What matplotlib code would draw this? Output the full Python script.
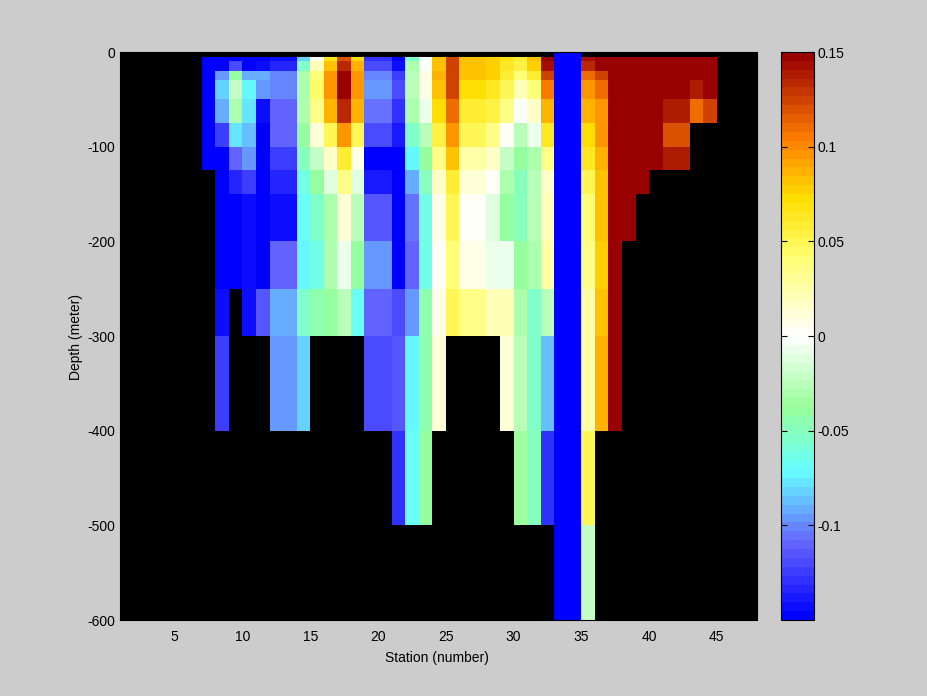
import numpy as np
import matplotlib
matplotlib.use('Agg')
import matplotlib.pyplot as plt
from matplotlib.colors import LinearSegmentedColormap

plt.rcParams['font.family'] = ['Liberation Sans', 'DejaVu Sans']

n = np.nan
b = -0.15
d = 0.15

# depth levels (meter) and station edges
depthEdges = [0, 5, 10, 20, 30, 50, 75, 100, 125, 150, 200, 250, 300, 400, 500, 600]
stationEdges = list(range(1, 49))
firstStation = 7

# one list per depth layer, starting at station 7
rowTop = [n]*26 + [b, b]
row5 = [b, b, b, b, b, -.142, -.142, -.082, 0, .066, .12, .072, -.129, -.129, b, -.055, -.003, .0825, .126, .084, .084, .0785, .066, .058, .0825, d, b, b, .145, d, d, d, d, d, d, d, d, d]
row10 = [b, b, -.121, b, -.142, -.134, -.134, -.055, .0233, .081, .133, .0866, -.119, -.119, -.144, -.0317, -.0027, .081, .126, .0825, .0825, .0785, .063, .052, .077, .1446, b, b, .133, d, d, d, d, d, d, d, d, d]
row20 = [b, -.098, -.038, -.091, -.091, -.0995, -.0995, -.03, .042, .0966, d, .0966, -.102, -.102, -.125, -.0267, .0047, .0866, .126, .084, .084, .075, .058, .042, .058, .122, b, b, .11, .126, d, d, d, d, d, d, d, d]
row30 = [b, -.082, -.019, -.072, -.096, -.0995, -.0995, -.0285, .045, .0966, d, .0966, -.096, -.096, -.119, -.0257, .007, .0825, .122, .074, .074, .064, .048, .0233, .042, .105, b, b, .0966, .11, d, d, d, d, d, d, .139, d]
row50 = [b, -.091, -.0317, -.078, -.144, -.11, -.11, -.0317, .037, .0855, .133, .0855, -.106, -.106, -.131, -.0317, -.0065, .074, .11, .058, .058, .052, .033, -.003, .0187, .0855, b, b, .0855, .0966, d, d, d, d, .139, .139, .11, .126]
row75 = [b, -.125, -.078, -.088, b, -.11, -.11, -.038, .014, .05, .0944, .05, -.119, -.119, -.1376, -.055, -.024, .053, .0944, .048, .048, .037, .004, -.0267, -.008, .064, b, b, .074, .0944, d, d, d, d, .12, .12, n, n]
row100 = [b, b, -.11, -.098, b, -.125, -.125, -.049, -.019, .0187, .058, .007, b, b, b, -.072, -.038, .033, .08, .028, .028, .0187, -.019, -.038, -.0317, .033, b, b, .063, .0855, d, d, d, d, .139, .139, n, n]
row125 = [n, b, -.134, -.125, b, -.134, -.134, -.061, -.038, -.0124, .033, -.0124, -.136, -.136, b, -.091, -.049, .0187, .058, .014, .014, .004, -.0317, -.049, -.0267, .0187, b, b, .048, .08, d, d, d]
row150 = [n, b, b, -.142, b, -.142, -.142, -.066, -.055, -.0317, .0105, -.024, -.117, -.117, b, -.104, -.061, .007, .048, .0027, .0027, -.0124, -.038, -.049, -.024, .0233, b, b, .04, .081, d, d]
row200 = [n, b, b, -.142, b, -.11, -.11, -.072, -.061, -.0317, -.0065, -.041, -.096, -.096, b, -.11, -.061, .002, .042, .007, .007, -.0065, -.0065, -.038, -.0317, .028, b, b, .033, .077, d]
row250 = [n, -.144, n, -.142, -.117, -.091, -.091, -.055, -.044, -.038, -.0267, -.066, -.11, -.11, -.121, -.096, -.044, .007, .048, .033, .033, .0233, .0233, -.03, -.055, -.024, b, b, .028, .0825, d]
row300 = [n, -.125, n, n, n, -.096, -.096, -.082, n, n, n, n, -.119, -.119, -.113, -.072, -.044, .014, n, n, n, n, .0105, -.0267, -.055, -.086, b, b, .028, .089, d]
row400 = [n]*14 + [-.131, -.066, -.038] + [n]*6 + [-.036, -.049, -.13, b, b, .048]
row500 = [n]*26 + [b, b, -.019]

rows = [rowTop, row5, row10, row20, row30, row50, row75, row100, row125, row150, row200, row250, row300, row400, row500]

nCols = len(stationEdges) - 1
grid = np.full((len(rows), nCols), np.nan)
for i, row in enumerate(rows):
    grid[i, firstStation - 1:firstStation - 1 + len(row)] = row

# colormap, 64 levels
cmapStops = [(0, (0, 0, 1)), (.132, (.4, .4, 1)), (.26, (.4, 1, 1)), (.373, (.6, 1, .6)),
             (.5, (1, 1, 1)), (.64, (1, 1, .45)), (.747, (1, .87, 0)), (.85, (1, .5, 0)), (1, (.6, 0, 0))]
cmap = LinearSegmentedColormap.from_list('bluewhitered', cmapStops, N=64)

W, H = 928, 696
fig = plt.figure(figsize=(W/100, H/100), dpi=100, facecolor='#cccccc')
ax = fig.add_axes([120.5/W, 1 - 620/H, 637/W, 568/H], facecolor='black')
mesh = ax.pcolormesh(stationEdges, -np.array(depthEdges), grid, cmap=cmap, vmin=-0.15, vmax=0.15)

ax.set_xlim(1, 48)
ax.set_ylim(-600, 0)
ax.set_xticks([5, 10, 15, 20, 25, 30, 35, 40, 45])
ax.set_yticks([0, -100, -200, -300, -400, -500, -600])
ax.set_yticklabels(['0', '-100', '-200', '-300', '-400', '-500', '-600'])
ax.tick_params(axis='x', direction='in', length=0, labelsize=10, pad=7)
ax.tick_params(axis='y', direction='in', length=0, labelsize=10, pad=4)
ax.set_xlabel('Station (number)', fontsize=10)
ax.set_ylabel('Depth (meter)', fontsize=10)
ax.xaxis.set_label_coords(0.4969, -0.054)
ax.yaxis.set_label_coords(-0.0588, 0.4985)

cax = fig.add_axes([781.5/W, 1 - 620/H, 33/W, 568/H])
cbar = fig.colorbar(mesh, cax=cax, ticks=[-0.1, -0.05, 0, 0.05, 0.1, 0.15])
cbar.ax.set_yticklabels(['-0.1', '-0.05', '0', '0.05', '0.1', '0.15'])
cbar.ax.tick_params(direction='in', left=True, right=True, length=4, width=0.8, labelsize=10, pad=2)
cbar.outline.set_linewidth(0.8)

plt.savefig('out.png', dpi=100, facecolor=fig.get_facecolor())
